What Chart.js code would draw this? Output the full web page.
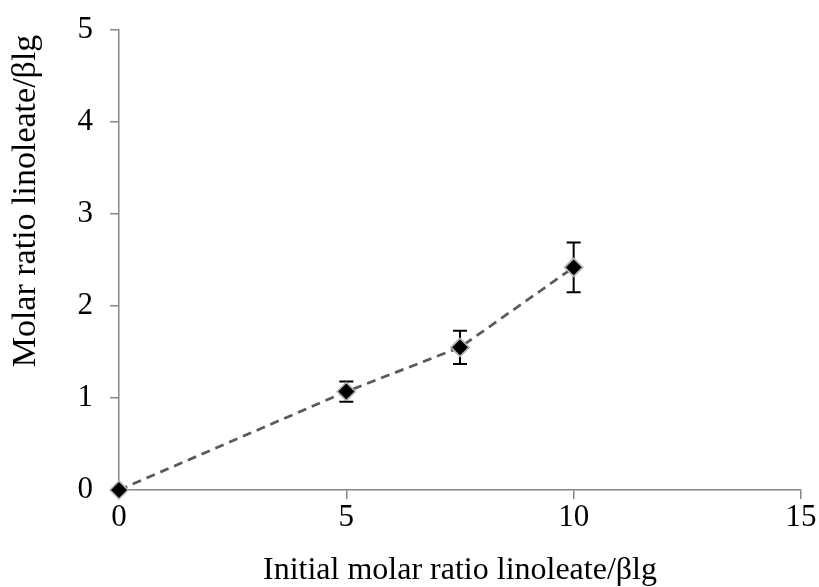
<!DOCTYPE html>
<html>
<head>
<meta charset="utf-8">
<script src="https://cdn.jsdelivr.net/npm/chart.js@4/dist/chart.umd.min.js"></script>
<style>
html,body{margin:0;padding:0;background:#fff;}
#wrap{width:819px;height:587px;}
</style>
</head>
<body>
<div id="wrap"><canvas id="c" width="819" height="587"></canvas></div>
<script>
const xValues = [0, 5, 7.5, 10];
const yValues = [0, 1.07, 1.55, 2.42];
const errLow = [0, 0.96, 1.37, 2.15];
const errHigh = [0, 1.18, 1.73, 2.69];
const xTicks = [0, 5, 10, 15];
const yTicks = [0, 1, 2, 3, 4, 5];
const xTitle = 'Initial molar ratio linoleate/βlg';
const yTitle = 'Molar ratio linoleate/βlg';

const points = xValues.map((x, i) => ({x: x, y: yValues[i]}));
const fam = '"Liberation Serif", "Times New Roman", serif';

const errorBars = {
  id: 'errorBars',
  afterDatasetsDraw(chart) {
    const ctx = chart.ctx;
    const xs = chart.scales.x, ys = chart.scales.y;
    ctx.save();
    ctx.strokeStyle = '#000';
    ctx.lineWidth = 2;
    xValues.forEach((xv, i) => {
      if (errHigh[i] === errLow[i]) return;
      const px = xs.getPixelForValue(xv);
      const pl = ys.getPixelForValue(errLow[i]);
      const ph = ys.getPixelForValue(errHigh[i]);
      ctx.beginPath();
      ctx.moveTo(px, pl); ctx.lineTo(px, ph);
      ctx.moveTo(px - 7, pl); ctx.lineTo(px + 7, pl);
      ctx.moveTo(px - 7, ph); ctx.lineTo(px + 7, ph);
      ctx.stroke();
    });
    ctx.restore();
    const meta = chart.getDatasetMeta(0);
    meta.data.forEach(el => el.draw(ctx));
  }
};

const yTitlePlugin = {
  id: 'yTitlePlugin',
  afterDraw(chart) {
    const ctx = chart.ctx;
    ctx.save();
    ctx.translate(26, 201);
    ctx.rotate(-Math.PI / 2);
    ctx.font = '34px ' + fam;
    ctx.fillStyle = '#000';
    ctx.textAlign = 'center';
    ctx.textBaseline = 'middle';
    ctx.fillText(yTitle, 0, 0);
    ctx.restore();
  }
};

const tickFont = {family: fam, size: 31};

new Chart(document.getElementById('c'), {
  type: 'scatter',
  data: {
    datasets: [{
      data: points,
      showLine: true,
      borderColor: '#5a5a5a',
      borderWidth: 2.75,
      borderDash: [9, 6],
      pointStyle: 'rectRot',
      pointRadius: 9,
      pointBackgroundColor: '#000',
      pointBorderColor: '#b4b4b4',
      pointBorderWidth: 1.5
    }]
  },
  options: {
    responsive: false,
    animation: false,
    layout: {padding: {top: 30, right: 18, left: 0, bottom: 0}},
    plugins: {legend: {display: false}, tooltip: {enabled: false}},
    scales: {
      x: {
        type: 'linear', min: 0, max: 15,
        afterBuildTicks: s => { s.ticks = xTicks.map(v => ({value: v})); },
        afterFit: s => { s.height = 97; s.paddingLeft = 0; s.paddingRight = 0; },
        border: {display: true, color: '#868686', width: 1.5},
        grid: {display: true, drawOnChartArea: false, drawTicks: true, tickLength: 9, color: '#868686', lineWidth: 1.5},
        ticks: {color: '#000', font: tickFont, padding: 0, maxRotation: 0},
        title: {display: true, text: xTitle, color: '#000', font: {family: fam, size: 32, lineHeight: 1}, padding: {top: 0, bottom: 0}}
      },
      y: {
        type: 'linear', min: 0, max: 5,
        afterBuildTicks: s => { s.ticks = yTicks.map(v => ({value: v})); },
        afterFit: s => { s.width = 119; s.paddingTop = 0; s.paddingBottom = 0; },
        border: {display: true, color: '#868686', width: 1.5},
        grid: {display: true, drawOnChartArea: false, drawTicks: true, tickLength: 9, color: '#868686', lineWidth: 1.5},
        ticks: {color: '#000', font: tickFont, padding: 17},
        title: {display: false}
      }
    }
  },
  plugins: [errorBars, yTitlePlugin]
});
</script>
</body>
</html>
